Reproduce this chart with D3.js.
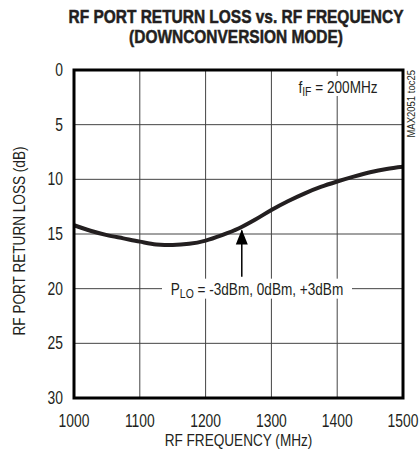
<!DOCTYPE html>
<html>
<head>
<meta charset="utf-8">
<script src="https://cdn.jsdelivr.net/npm/d3@7"></script>
<style>
  body { margin: 0; background: #fff; }
  text { font-family: "Liberation Sans", Arial, sans-serif; fill: #231f20; }
</style>
</head>
<body>
<div id="chart"></div>
<script>
const svgWidth = 419;
const svgHeight = 459;
const margin = { top: 70, right: 16, bottom: 61, left: 74 };
const width = svgWidth - margin.left - margin.right;
const height = svgHeight - margin.top - margin.bottom;

// datos
const freq = [1000, 1025, 1050, 1075, 1100, 1125, 1150, 1175, 1200, 1225, 1250, 1275, 1300, 1325, 1350, 1375, 1400, 1425, 1450, 1475, 1500];
const loss = [14.2, 14.7, 15.1, 15.4, 15.7, 15.95, 16.0, 15.9, 15.6, 15.1, 14.5, 13.7, 12.8, 12.0, 11.3, 10.7, 10.2, 9.75, 9.35, 9.05, 8.85];
const xTicks = [1000, 1100, 1200, 1300, 1400, 1500];
const yTicks = [0, 5, 10, 15, 20, 25, 30];

const svg = d3.select("#chart")
  .append("svg")
  .attr("width", svgWidth)
  .attr("height", svgHeight)
  .append("g")
  .attr("transform", `translate(${margin.left},${margin.top})`);

const x = d3.scaleLinear().domain([1000, 1500]).range([0, width]);
const y = d3.scaleLinear().domain([0, 30]).range([0, height]);

// texto estrecho (no hay fuente narrow instalada)
function narrow(parent, px, py, anchor, size, extra, sx) {
  return parent.append("g")
    .attr("transform", `translate(${px},${py}) ${extra || ""} scale(${sx || 0.8},1)`)
    .append("text")
    .attr("text-anchor", anchor)
    .style("font-size", size + "px");
}

// Titulo
narrow(svg, 162, -47, "middle", 18, "", 0.86)
  .style("font-weight", "bold")
  .style("stroke", "#231f20").style("stroke-width", 0.5)
  .text("RF PORT RETURN LOSS vs. RF FREQUENCY");
narrow(svg, 162, -27, "middle", 18, "", 0.86)
  .style("font-weight", "bold")
  .style("stroke", "#231f20").style("stroke-width", 0.5)
  .text("(DOWNCONVERSION MODE)");

// Rejilla
svg.selectAll(".vgrid")
  .data(xTicks.slice(1, -1))
  .enter()
  .append("line")
  .attr("x1", d => x(d)).attr("x2", d => x(d))
  .attr("y1", 0).attr("y2", height)
  .attr("stroke", "#444").attr("stroke-width", 1);

svg.selectAll(".hgrid")
  .data(yTicks.slice(1, -1))
  .enter()
  .append("line")
  .attr("x1", 0).attr("x2", width)
  .attr("y1", d => y(d)).attr("y2", d => y(d))
  .attr("stroke", "#444").attr("stroke-width", 1);

// Etiquetas de ejes
yTicks.forEach(t => {
  narrow(svg, -11, y(t) + 6, "end", 18, "", 0.77).text(t);
});

xTicks.forEach(t => {
  narrow(svg, x(t), height + 29, "middle", 18, "", 0.77).text(t);
});

narrow(svg, width / 2, height + 48, "middle", 17).text("RF FREQUENCY (MHz)");

narrow(svg, -49, 171, "middle", 17, "rotate(-90)").text("RF PORT RETURN LOSS (dB)");

// Curva
const line = d3.line()
  .x((d, i) => x(freq[i]))
  .y(d => y(d))
  .curve(d3.curveMonotoneX);

svg.append("path")
  .datum(loss)
  .attr("d", line)
  .attr("fill", "none")
  .attr("stroke", "#231f20")
  .attr("stroke-width", 4);

// Anotacion P_LO
svg.append("rect")
  .attr("x", 88).attr("y", y(20) - 10)
  .attr("width", 190).attr("height", 20)
  .attr("fill", "#fff");
const plo = narrow(svg, 183, y(20) + 6, "middle", 17);
plo.append("tspan").text("P");
plo.append("tspan").attr("dy", 3).style("font-size", "13px").text("LO");
plo.append("tspan").attr("dy", -3).text(" = -3dBm, 0dBm, +3dBm");

svg.append("line")
  .attr("x1", x(1255)).attr("x2", x(1255))
  .attr("y1", y(18.9)).attr("y2", y(14.5) + 2)
  .attr("stroke", "#000").attr("stroke-width", 1.5);
svg.append("path")
  .attr("d", `M${x(1255)},${y(14.5) + 1}l-6,15h12z`)
  .attr("fill", "#000");

// Anotacion f_IF
svg.append("rect")
  .attr("x", 219).attr("y", 6)
  .attr("width", 90).attr("height", 20)
  .attr("fill", "#fff");
const fif = narrow(svg, 264, 23, "middle", 17);
fif.append("tspan").text("f");
fif.append("tspan").attr("dy", 3).style("font-size", "13px").text("IF");
fif.append("tspan").attr("dy", -3).text(" = 200MHz");

// Marco
svg.append("rect")
  .attr("x", 0).attr("y", 0)
  .attr("width", width).attr("height", height)
  .attr("fill", "none")
  .attr("stroke", "#000")
  .attr("stroke-width", 3);

narrow(svg, width + 12, 0, "end", 10, "rotate(-90)", 0.95).text("MAX2051 toc25");
</script>
</body>
</html>
